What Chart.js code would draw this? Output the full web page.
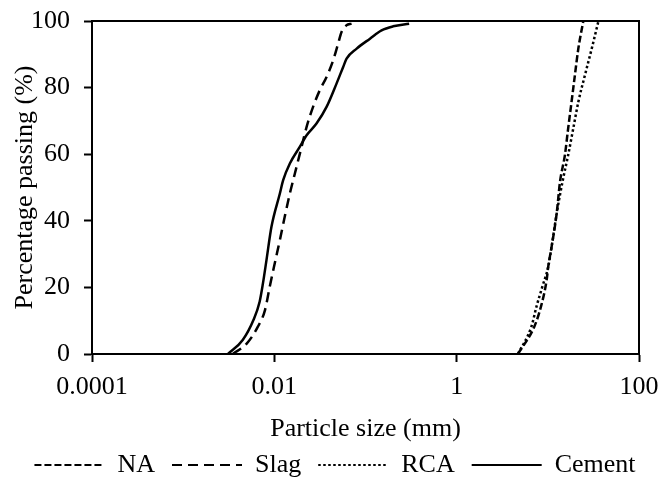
<!DOCTYPE html>
<html>
<head>
<meta charset="utf-8">
<script src="https://cdn.jsdelivr.net/npm/chart.js@4.4.1/dist/chart.umd.min.js"></script>
<style>
  html, body { margin: 0; padding: 0; background: #fff; }
  canvas { display: block; }
</style>
</head>
<body>
<canvas id="grading-chart" width="660" height="481"></canvas>
<script>
// particle size (mm) vs percentage passing for each material
const naSize = [4.7, 7.1, 8.4, 9.7, 10.1, 11.0, 12.5, 13.6, 15.4, 16.7, 18.2, 19.8, 21.6, 24.5];
const naPassing = [0, 8.2, 14.2, 22.2, 26.2, 32.2, 42.2, 51.7, 59.8, 67.7, 75.7, 83.7, 91.7, 100];

const slagSize = [0.0035, 0.0050, 0.0066, 0.0079, 0.0089, 0.0101, 0.0115, 0.0130, 0.0148, 0.0168,
  0.0199, 0.0226, 0.0266, 0.0315, 0.0374, 0.0442, 0.0501, 0.0546, 0.0619, 0.0703];
const slagPassing = [0, 3.2, 8.2, 13.2, 20.2, 27.2, 34.2, 41.2, 48.2, 54.2,
  62.2, 68.2, 74.2, 79.2, 83.2, 88.2, 93.2, 96.7, 98.7, 99.2];

const rcaSize = [4.7, 6.6, 7.5, 8.7, 10.1, 11.0, 12.5, 14.6, 16.7, 19.0, 21.6, 25.5, 30.3, 35.7];
const rcaPassing = [0, 8.2, 14.2, 20.2, 26.2, 32.2, 42.2, 52.2, 59.7, 67.7, 75.7, 83.7, 91.7, 99.7];

const cementSize = [0.0031, 0.0045, 0.0059, 0.0069, 0.0075, 0.0082, 0.0093, 0.0115, 0.0125, 0.0148, 0.0190,
  0.0226, 0.0290, 0.0374, 0.0481, 0.0569, 0.0620, 0.0800, 0.112, 0.150, 0.201, 0.301];
const cementPassing = [0, 4.2, 10.2, 15.7, 21.2, 28.2, 38.2, 48.2, 52.2, 57.2, 62.2,
  65.7, 69.2, 74.2, 81.2, 86.2, 88.7, 91.7, 94.7, 97.2, 98.4, 99.2];

const xTicks = [0.0001, 0.01, 1, 100];
const xTickLabels = ['0.0001', '0.01', '1', '100'];
const yTicks = [0, 20, 40, 60, 80, 100];

const FONT = 'Liberation Serif';

const toPoints = (sizes, passing) => sizes.map((x, i) => ({ x: x, y: passing[i] }));

// closes the plot box (top and right edges)
const frameBox = {
    id: 'frameBox',
    afterDatasetsDraw(chart) {
        const { ctx, chartArea } = chart;
        ctx.save();
        ctx.strokeStyle = '#000';
        ctx.lineWidth = 2;
        ctx.strokeRect(chartArea.left, chartArea.top,
            chartArea.right - chartArea.left, chartArea.bottom - chartArea.top);
        ctx.restore();
    }
};

// legend samples drawn as line segments with each dataset's dash pattern
function lineLegendLabels(chart) {
    const items = Chart.defaults.plugins.legend.labels.generateLabels(chart);
    return items.map(item => {
        const ds = chart.data.datasets[item.datasetIndex];
        item.strokeStyle = ds.borderColor;
        item.lineWidth = 2;
        item.lineDash = ds.borderDash;
        return item;
    });
}

const axisFont = { family: FONT, size: 26 };
const axisGrid = { drawOnChartArea: false, tickLength: 8, tickWidth: 2, tickColor: '#000' };
const axisBorder = { color: '#000', width: 2 };

const lineStyle = { borderColor: '#000', borderWidth: 2.5, pointRadius: 0, fill: false, cubicInterpolationMode: 'monotone' };

new Chart(document.getElementById('grading-chart'), {
    type: 'line',
    data: {
        datasets: [
            { label: 'NA', data: toPoints(naSize, naPassing), ...lineStyle, borderDash: [7, 3] },
            { label: 'Slag', data: toPoints(slagSize, slagPassing), ...lineStyle, borderDash: [10, 6] },
            { label: 'RCA', data: toPoints(rcaSize, rcaPassing), ...lineStyle, borderDash: [2.5, 2.5] },
            { label: 'Cement', data: toPoints(cementSize, cementPassing), ...lineStyle, borderDash: [] }
        ]
    },
    options: {
        responsive: false,
        animation: false,
        devicePixelRatio: 1,
        layout: { padding: { top: 21, right: 0, bottom: -7, left: 10 } },
        plugins: {
            legend: {
                position: 'bottom',
                labels: {
                    usePointStyle: true,
                    pointStyle: 'line',
                    pointStyleWidth: 70,
                    padding: 17,
                    color: '#000',
                    font: axisFont,
                    generateLabels: lineLegendLabels
                }
            },
            tooltip: { enabled: false }
        },
        scales: {
            x: {
                type: 'logarithmic',
                min: 0.0001,
                max: 100,
                afterBuildTicks: (scale) => { scale.ticks = xTicks.map(v => ({ value: v })); },
                afterFit: (scale) => { scale.height = 81; scale.paddingRight = 21; },
                ticks: {
                    autoSkip: false,
                    maxRotation: 0,
                    padding: 10,
                    color: '#000',
                    font: axisFont,
                    callback: (value, index) => xTickLabels[index]
                },
                grid: axisGrid,
                border: axisBorder,
                title: {
                    display: true,
                    text: 'Particle size (mm)',
                    color: '#000',
                    font: axisFont,
                    padding: { top: 0, bottom: -10 }
                }
            },
            y: {
                min: 0,
                max: 100,
                afterBuildTicks: (scale) => { scale.ticks = yTicks.map(v => ({ value: v })); },
                afterFit: (scale) => { scale.width = 82; scale.paddingTop = 0; scale.paddingBottom = 0; },
                ticks: { padding: 14, color: '#000', font: axisFont },
                grid: axisGrid,
                border: axisBorder,
                title: {
                    display: true,
                    text: 'Percentage passing (%)',
                    color: '#000',
                    font: axisFont,
                    padding: 0
                }
            }
        }
    },
    plugins: [frameBox]
});
</script>
</body>
</html>
